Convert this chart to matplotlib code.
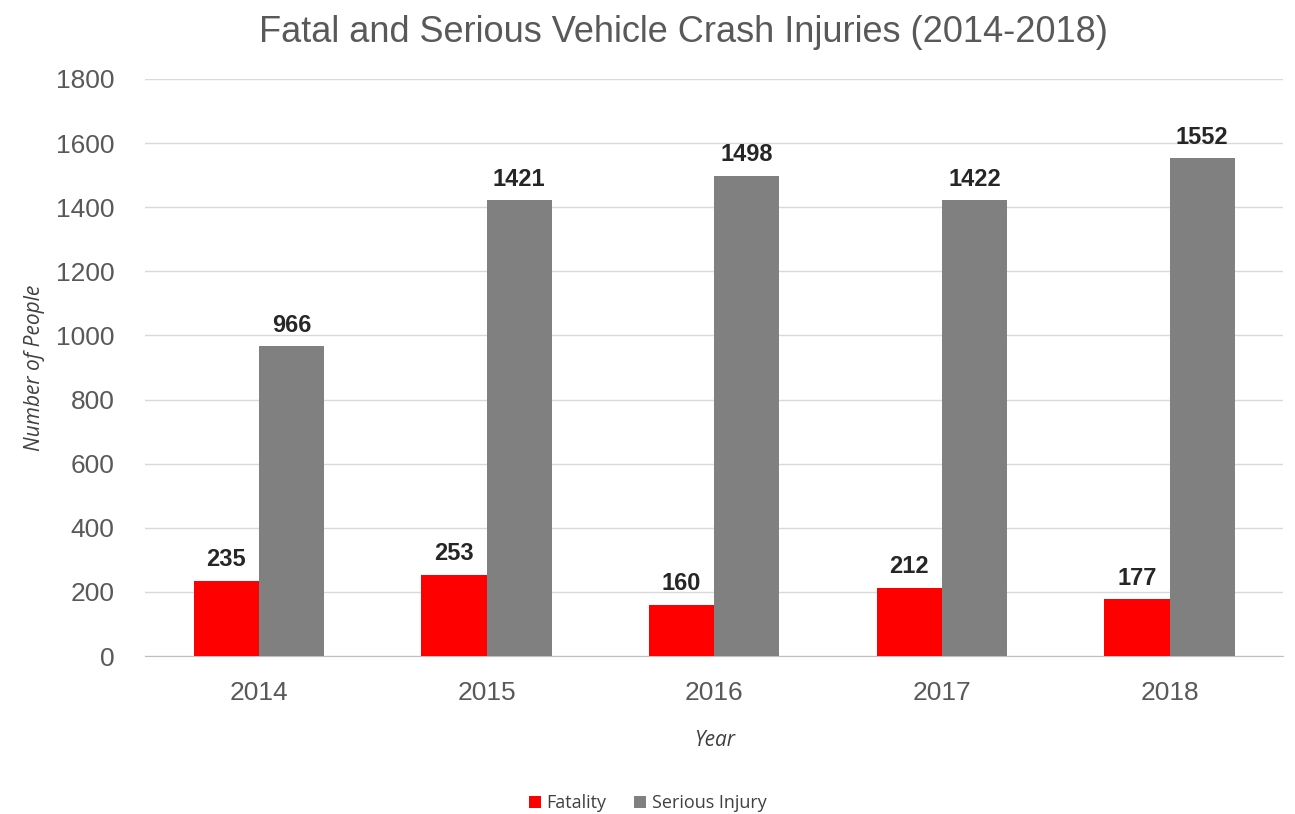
import numpy as np
import matplotlib.pyplot as plt

years = ['2014', '2015', '2016', '2017', '2018']
fatality = [235, 253, 160, 212, 177]
serious = [966, 1421, 1498, 1422, 1552]

plt.rcParams['font.family'] = ['Liberation Sans', 'DejaVu Sans']

fig = plt.figure(figsize=(12.95, 8.14), dpi=100)
ax = fig.add_axes([0.112, 0.194, 0.879, 0.709])

x = np.arange(len(years))
w = 0.286
b1 = ax.bar(x - w / 2, fatality, w, color='#ff0000', label='Fatality', zorder=3)
b2 = ax.bar(x + w / 2, serious, w, color='#808080', label='Serious Injury', zorder=3)

for bars in (b1, b2):
    for r in bars:
        ax.text(r.get_x() + r.get_width() / 2, r.get_height() + 30, f'{int(r.get_height())}',
                ha='center', va='bottom', fontsize=17, fontweight='bold', color='#262626')

ax.set_xlim(-0.5, 4.5)
ax.set_ylim(0, 1800)
ax.set_yticks(range(0, 1801, 200))
ax.set_xticks(x)
ax.set_xticklabels(years)
ax.tick_params(axis='both', length=0, labelsize=19, labelcolor='#595959')
ax.tick_params(axis='y', pad=22)
ax.tick_params(axis='x', pad=18)
ax.grid(axis='y', color='#d9d9d9', linewidth=1, zorder=0)
for s in ['top', 'right', 'left']:
    ax.spines[s].set_visible(False)
ax.spines['bottom'].set_color('#bfbfbf')

ax.set_xlabel('Year', fontsize=15, style='italic', color='#404040', family='Open Sans', labelpad=18)
ax.set_ylabel('Number of People', fontsize=15, style='italic', color='#404040', family='Open Sans', labelpad=8)
fig.suptitle('Fatal and Serious Vehicle Crash Injuries (2014-2018)', fontsize=26, color='#595959',
             x=0.528, y=0.982)

fig.legend(loc='lower center', bbox_to_anchor=(0.5, -0.018), ncol=2, frameon=False,
           prop={'family': 'Open Sans', 'size': 13}, handlelength=0.7, handleheight=0.7,
           columnspacing=1.5, handletextpad=0.3, labelcolor='#404040')

fig.savefig('out.png', dpi=100)
